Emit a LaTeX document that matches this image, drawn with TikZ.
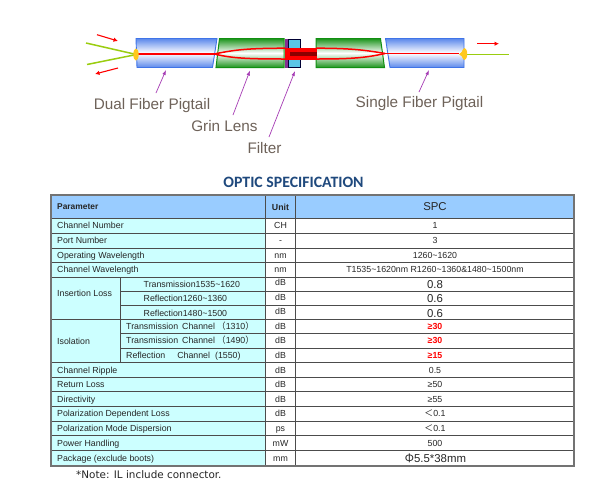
\documentclass[tikz,border=0pt]{standalone}
\usepackage{fontspec}
\setmainfont{Liberation Sans}
\newfontfamily\cjk{Noto Sans CJK SC}
\newfontfamily\cali{Carlito}
\newfontfamily\dv{DejaVu Sans}
\usetikzlibrary{arrows.meta}
\definecolor{hdr}{HTML}{99CCFF}
\definecolor{cyanc}{HTML}{CCFFFF}
\definecolor{bluee}{HTML}{3F74E8}
\definecolor{greene}{HTML}{118F11}
\definecolor{lab}{HTML}{6E6259}
\definecolor{purp}{HTML}{A63CB5}
\definecolor{fib}{HTML}{9ACD0F}
\definecolor{yel}{HTML}{FFC81E}
\definecolor{ttl}{HTML}{1F497D}
\definecolor{filt}{HTML}{5BC6E6}
\tikzset{
 pigtail/.style={draw=bluee,line width=.9pt,top color=bluee!85,bottom color=bluee!85,middle color=white},
 lens/.style={draw=greene,line width=1pt,top color=greene!95,bottom color=greene!95,middle color=white},
 beam/.style={draw=red,line width=1.5pt},
 fibre/.style={draw=fib,line width=1.5pt},
 flow/.style={draw=red,line width=1.1pt,-{Latex[length=4.5pt,width=4.5pt]}},
 pointer/.style={draw=purp,line width=.7pt,-{Latex[length=5pt,width=3.5pt]}},
 partlabel/.style={text=lab,font=\fontsize{15.3}{17}\selectfont,inner sep=0pt},
 celltxt/.style={inner sep=0pt,text=black!85,text height=7pt,text depth=1pt,font=\fontsize{8.8}{10}\selectfont},
 grid/.style={draw=black!70,line width=.8pt},
 big/.style={inner sep=0pt,text=black!85,text height=9pt,text depth=1pt,font=\fontsize{11.4}{13}\selectfont},
 redv/.style={inner sep=0pt,text=red,text height=7pt,text depth=1pt,font=\fontsize{8.8}{10}\selectfont\bfseries},
}
\begin{document}
\begin{tikzpicture}[x=1pt,y=-1pt]
\useasboundingbox (0,0) rectangle (600,488);
\fill[white] (0,0) rectangle (600,488);
% optical assembly
\draw[fibre] (86,43) -- (135,54.2);
\draw[fibre] (87,64.5) -- (135,54.8);
\draw[fibre] (465,54.7) -- (509,54.7);
\path[pigtail] (136,38.5) -- (217,38.5) -- (212.5,67.5) -- (137,67.5) -- cycle;
\path[lens] (219.5,38.5) -- (284,38.5) -- (284,67.5) -- (216,67.5) -- cycle;
\path[lens] (316,38.5) -- (380.5,38.5) -- (384.5,67.5) -- (316,67.5) -- cycle;
\path[pigtail] (385.5,38.5) -- (464,38.5) -- (464,67.5) -- (390,67.5) -- cycle;
\fill[purp!80!black] (285,39) rectangle (288,68);
\draw[black!80!blue,fill=filt,line width=.7pt] (288,39) rectangle (300,67);
\fill[red] (285,47.5) rectangle (316.5,60);
\fill[red!55!black] (290,51.7) rectangle (316.5,56);
\draw[beam] (138,54) -- (216,54);
\draw[beam] (216,53.6) .. controls (235,50) and (245,48.3) .. (285,48.2);
\draw[beam] (216,54.4) .. controls (232,58) and (245,59) .. (285,59);
\draw[beam] (316,48.2) .. controls (350,48.2) and (365,50) .. (385,53.5);
\draw[beam] (316,59) .. controls (350,59) and (365,58) .. (385,53.5);
\draw[beam] (385,53.3) -- (459,53.3);
\fill[yel] (136,54.5) ellipse (2.7 and 6);
\fill[yel] (464.5,54) ellipse (2.7 and 6);
\fill[yel] (459,54.3) -- (464,50) -- (464,58) -- cycle;
% flow arrows
\coordinate (fa1) at (97,34.7); \coordinate (fa2) at (118,41);
\coordinate (fb1) at (118,68); \coordinate (fb2) at (95,74);
\coordinate (fc1) at (477,43.7); \coordinate (fc2) at (499,43.7);
\draw[flow] (fa1) -- (fa2);
\draw[flow] (fb1) -- (fb2);
\draw[flow] (fc1) -- (fc2);
% labels
\node[partlabel] (ldual) at (152,106) {Dual Fiber Pigtail};
\node[partlabel] (lgrin) at (224.5,126.5) {Grin Lens};
\node[partlabel] (lfilt) at (264.5,148.5) {Filter};
\node[partlabel] (lsing) at (419.5,104) {Single Fiber Pigtail};
\coordinate (pa1) at (156,93); \coordinate (pa2) at (166,70);
\coordinate (pb1) at (233,115); \coordinate (pb2) at (250,70.5);
\coordinate (pc1) at (269,137); \coordinate (pc2) at (295,71);
\coordinate (pd1) at (419,92); \coordinate (pd2) at (429,70);
\draw[pointer] (pa1) -- (pa2);
\draw[pointer] (pb1) -- (pb2);
\draw[pointer] (pc1) -- (pc2);
\draw[pointer] (pd1) -- (pd2);
% title
\node[inner sep=0pt,text=ttl,font=\cali\bfseries\fontsize{15.8}{18}\selectfont] (title) at (293.5,182.5) {OPTIC SPECIFICATION};
% table fills
\fill[hdr] (51,195) rectangle (574,218.3);
\fill[cyanc] (51,218.3) rectangle (265.3,466);
% horizontal lines
\foreach \yy in {218.3,233.3,248,262.7,277,291.7,305.7,319.7,333.3,348,362.3,377,391.7,406.3,421,435.7,450.3}{
  \draw[grid] (51,\yy) -- (574,\yy);
}
\fill[cyanc] (51.5,278) rectangle (120,319);
\fill[cyanc] (51.5,320.5) rectangle (120,361.8);
\draw[grid] (120.7,277) -- (120.7,362.3);
\draw[grid] (265.3,195) -- (265.3,466);
\draw[grid] (295.3,195) -- (295.3,466);
\draw[draw=black!55,line width=1.6pt] (51,195) rectangle (574,466);
% header
\node[inner sep=0pt,anchor=west,font=\fontsize{8.4}{10}\selectfont\bfseries,text=black!85] (hparam) at (57,207) {Parameter};
\node[inner sep=0pt,font=\fontsize{8.8}{10}\selectfont\bfseries,text=black!85] (hunit) at (280.5,207) {Unit};
\node[inner sep=0pt,font=\fontsize{11.4}{13}\selectfont,text=black!85] (hspc) at (435,207) {SPC};
% single rows
\foreach \n/\yy/\p/\u/\v in {
 a/225.7/Channel Number/CH/1,
 b/240.4/Port Number/-/3,
 c/255.2/Operating Wavelength/nm/1260\textasciitilde1620,
 d/269.8/Channel Wavelength/nm/T1535\textasciitilde1620nm R1260\textasciitilde1360\&1480\textasciitilde1500nm,
 e/370/Channel Ripple/dB/0.5,
 f/384.5/Return Loss/dB/≥50,
 g/399/Directivity/dB/≥55,
 h/413.8/Polarization Dependent Loss/dB/{\cjk ＜}0.1,
 i/428.5/Polarization Mode Dispersion/ps/{\cjk ＜}0.1,
 j/443/Power Handling/mW/500}{
  \node[celltxt,anchor=west] (p\n) at (57,\yy) {\p};
  \node[celltxt] (u\n) at (280.5,\yy) {\u};
  \node[celltxt] (v\n) at (435,\yy) {\v};
}
\node[celltxt,anchor=west] (pk) at (57,458) {Package (exclude boots)};
\node[celltxt] (uk) at (280.5,458) {mm};
\node[big] (vk) at (435.5,458.5) {{\cjk Φ}5.5*38mm};
% groups
\node[celltxt,anchor=west] (gil) at (57,293.5) {Insertion Loss};
\node[celltxt,anchor=west] (giso) at (57,341.5) {Isolation};
\node[celltxt,anchor=west] (s1) at (143.5,284.5) {Transmission1535\textasciitilde1620};
\node[celltxt,anchor=west] (s2) at (143.5,298.7) {Reflection1260\textasciitilde1360};
\node[celltxt,anchor=west] (s3) at (143.5,313) {Reflection1480\textasciitilde1500};
\node[celltxt,anchor=west] (s4) at (126,326.5) {Transmission\hspace{4pt}Channel\hspace{2pt}{\cjk （}1310{\cjk ）}};
\node[celltxt,anchor=west] (s5) at (126,340.7) {Transmission\hspace{4pt}Channel\hspace{2pt}{\cjk （}1490{\cjk ）}};
\node[celltxt,anchor=west] (s6) at (126,355) {Reflection\hspace{12pt}Channel\hspace{5pt}(1550)};
\node[celltxt] (us1) at (280.5,282.5) {dB};
\node[celltxt] (us2) at (280.5,297) {dB};
\node[celltxt] (us3) at (280.5,311.5) {dB};
\node[celltxt] (us4) at (280.5,326.5) {dB};
\node[celltxt] (us5) at (280.5,340.7) {dB};
\node[celltxt] (us6) at (280.5,355) {dB};
\node[big] (vs1) at (435,284.5) {0.8};
\node[big] (vs2) at (435,298.7) {0.6};
\node[big] (vs3) at (435,313) {0.6};
\node[redv] (vs4) at (435,326.5) {≥30};
\node[redv] (vs5) at (435,340.7) {≥30};
\node[redv] (vs6) at (435,355) {≥15};
\node[inner sep=0pt,anchor=west,text=black!85,font=\dv\fontsize{10.4}{12}\selectfont] (note) at (76,474.5) {*Note: IL include connector.};
\end{tikzpicture}
\end{document}
